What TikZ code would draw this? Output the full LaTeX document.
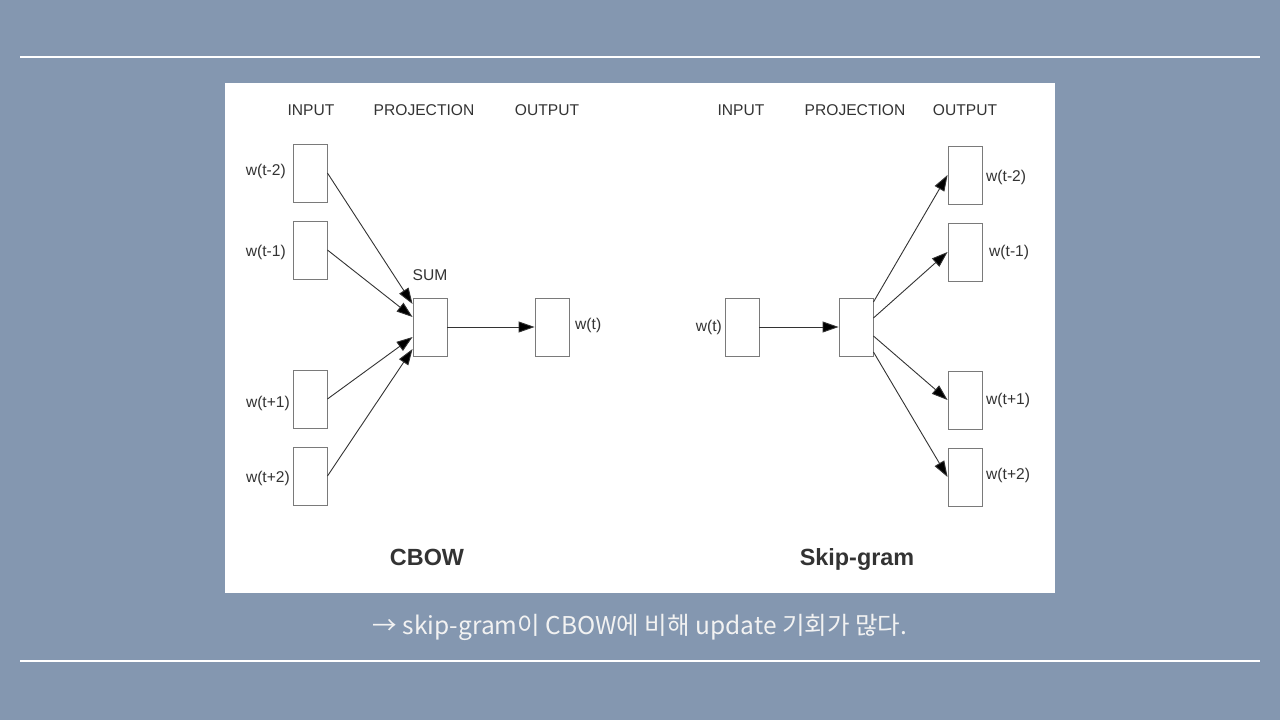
\documentclass[tikz,border=0pt]{standalone}
\usepackage{fontspec}
\setmainfont{Liberation Sans}
\newfontfamily\krfont{Noto Sans CJK KR}
\usetikzlibrary{arrows.meta,calc}
\definecolor{bgc}{HTML}{8497B0}
\definecolor{txt}{HTML}{333333}
\definecolor{boxc}{HTML}{7A7A7A}
\begin{document}
\begin{tikzpicture}[x=1pt,y=-1pt,
  vbox/.style={draw=boxc,line width=0.9pt,fill=white,minimum width=34pt,minimum height=58pt,inner sep=0pt},
  lbl/.style={text=txt,font=\fontsize{15.6}{18}\selectfont,inner sep=0pt},
  title/.style={text=txt,font=\fontsize{23.4}{26}\selectfont\bfseries,inner sep=0pt,anchor=base},
  conn/.style={draw=txt,line width=0.9pt,-{Triangle[length=16pt,width=11pt,fill=black]}}]
\useasboundingbox (0,0) rectangle (1280,720);
\fill[bgc] (0,0) rectangle (1280,720);
\draw[white,line width=1.5pt] (20,57) -- (1260,57);
\draw[white,line width=1.5pt] (20,661) -- (1260,661);
\fill[white] (225,83) rectangle (1055,593);
% CBOW
\node[lbl] (h1) at (311,110) {INPUT};
\node[lbl] (h2) at (424,110) {PROJECTION};
\node[lbl] (h3) at (547,110) {OUTPUT};
\node[vbox] (a1) at (310,173) {};
\node[vbox] (a2) at (310,250) {};
\node[vbox] (a3) at (310,399) {};
\node[vbox] (a4) at (310,476) {};
\node[lbl,anchor=east] (la1) at (286,171) {w(t-2)};
\node[lbl,anchor=east] (la2) at (286,252) {w(t-1)};
\node[lbl,anchor=east] (la3) at (290,403) {w(t+1)};
\node[lbl,anchor=east] (la4) at (290,478) {w(t+2)};
\node[vbox] (sum) at (430,327) {};
\node[lbl] (sl) at (430,275) {SUM};
\node[vbox] (out) at (552,327) {};
\node[lbl,anchor=west] (lo) at (575,325) {w(t)};
\draw[conn] (a1.east) -- ([yshift=23pt]sum.west);
\draw[conn] (a2.east) -- ([yshift=10pt]sum.west);
\draw[conn] (a3.east) -- ([yshift=-10pt]sum.west);
\draw[conn] (a4.east) -- ([yshift=-22pt]sum.west);
\draw[conn] (sum.east) -- (out.west);
\node[title] (t1) at (427,565) {CBOW};
% Skip-gram
\node[lbl] (g1) at (741,110) {INPUT};
\node[lbl] (g2) at (855,110) {PROJECTION};
\node[lbl] (g3) at (965,110) {OUTPUT};
\node[vbox] (in) at (742,327) {};
\node[lbl,anchor=east] (li) at (722,327) {w(t)};
\node[vbox] (proj) at (856,327) {};
\node[vbox] (b1) at (965,175) {};
\node[vbox] (b2) at (965,252) {};
\node[vbox] (b3) at (965,400) {};
\node[vbox] (b4) at (965,477) {};
\node[lbl,anchor=west] (lb1) at (986,177) {w(t-2)};
\node[lbl,anchor=west] (lb2) at (989,252) {w(t-1)};
\node[lbl,anchor=west] (lb3) at (986,400) {w(t+1)};
\node[lbl,anchor=west] (lb4) at (986,475) {w(t+2)};
\draw[conn] (in.east) -- (proj.west);
\draw[conn] ([yshift=25pt]proj.east) -- (b1.west);
\draw[conn] ([yshift=9pt]proj.east) -- (b2.west);
\draw[conn] ([yshift=-9pt]proj.east) -- (b3.west);
\draw[conn] ([yshift=-25pt]proj.east) -- (b4.west);
\node[title] (t2) at (857,565) {Skip-gram};
% caption
\node[text=white!95!black,font=\krfont\fontsize{24.5}{28}\selectfont,inner sep=0pt] (cap) at (640,627) {→ skip-gram이 CBOW에 비해 update 기회가 많다.};
\end{tikzpicture}
\end{document}
